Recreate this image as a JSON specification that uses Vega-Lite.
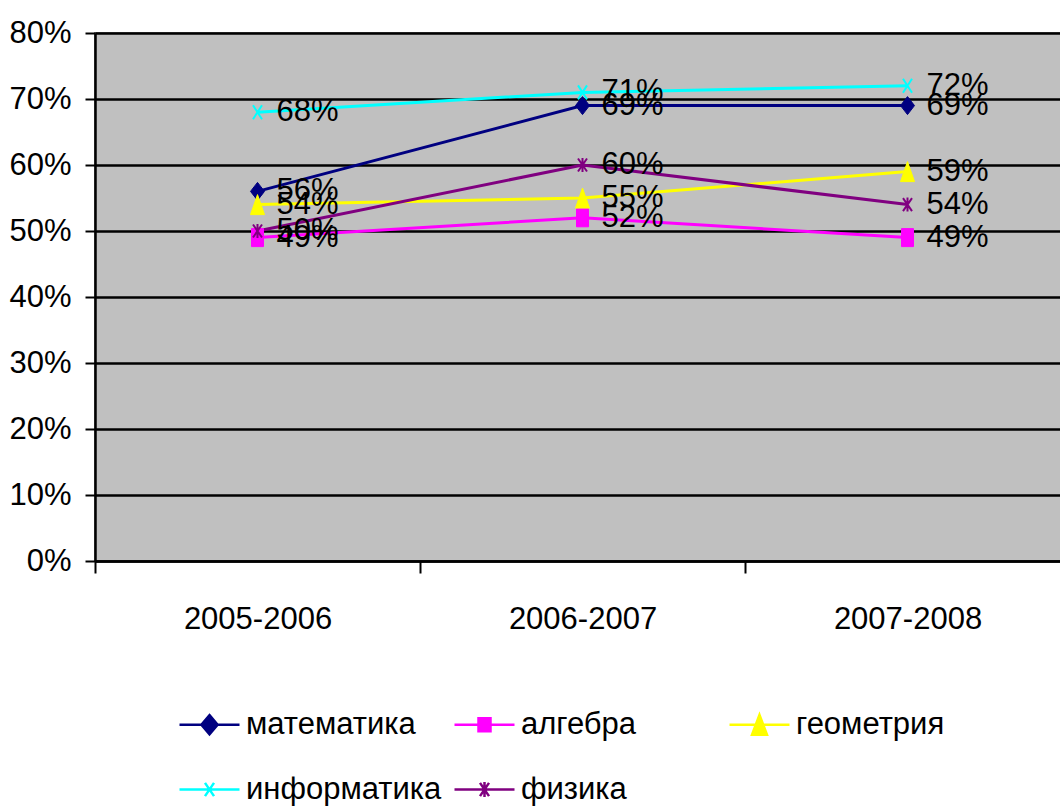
{
  "$schema": "https://vega.github.io/schema/vega-lite/v6.json",
  "width": 975,
  "height": 528,
  "autosize": {"type": "none"},
  "padding": {"left": 95, "top": 33, "right": 0, "bottom": 246},
  "background": "white",
  "config": {
    "view": {"fill": "#C0C0C0", "stroke": "#808080", "strokeWidth": 2},
    "font": "Liberation Sans",
    "text": {"font": "Liberation Sans"}
  },
  "data": {
    "values": [
      {"year": "2005-2006", "subject": "математика", "value": 0.56},
      {"year": "2006-2007", "subject": "математика", "value": 0.69},
      {"year": "2007-2008", "subject": "математика", "value": 0.69},
      {"year": "2005-2006", "subject": "алгебра", "value": 0.49},
      {"year": "2006-2007", "subject": "алгебра", "value": 0.52},
      {"year": "2007-2008", "subject": "алгебра", "value": 0.49},
      {"year": "2005-2006", "subject": "геометрия", "value": 0.54},
      {"year": "2006-2007", "subject": "геометрия", "value": 0.55},
      {"year": "2007-2008", "subject": "геометрия", "value": 0.59},
      {"year": "2005-2006", "subject": "информатика", "value": 0.68},
      {"year": "2006-2007", "subject": "информатика", "value": 0.71},
      {"year": "2007-2008", "subject": "информатика", "value": 0.72},
      {"year": "2005-2006", "subject": "физика", "value": 0.50},
      {"year": "2006-2007", "subject": "физика", "value": 0.60},
      {"year": "2007-2008", "subject": "физика", "value": 0.54}
    ]
  },
  "encoding": {
    "x": {
      "field": "year", "type": "nominal",
      "sort": ["2005-2006", "2006-2007", "2007-2008"],
      "scale": {"type": "band", "paddingInner": 0, "paddingOuter": 0},
      "axis": {
        "title": null, "labelAngle": 0, "tickBand": "extent", "tickSize": 12, "tickWidth": 2,
        "tickColor": "black", "domainColor": "black", "domainWidth": 2.5,
        "labelPadding": 31, "labelFontSize": 31, "labelColor": "black",
        "labelFont": "Liberation Sans", "grid": false
      }
    },
    "y": {
      "field": "value", "type": "quantitative",
      "scale": {"domain": [0, 0.8]},
      "axis": {
        "title": null, "values": [0, 0.1, 0.2, 0.3, 0.4, 0.5, 0.6, 0.7, 0.8],
        "format": ".0%", "labelFontSize": 31, "labelColor": "black",
        "labelFont": "Liberation Sans", "labelPadding": 14,
        "tickSize": 10, "tickWidth": 2, "tickColor": "black",
        "domainColor": "black", "domainWidth": 2.5,
        "grid": true, "gridColor": "black", "gridWidth": 2.5, "gridOpacity": 1
      }
    },
    "color": {
      "field": "subject", "type": "nominal",
      "scale": {
        "domain": ["математика", "алгебра", "геометрия", "информатика", "физика"],
        "range": ["#000080", "#FF00FF", "#FFFF00", "#00FFFF", "#800080"]
      },
      "legend": {
        "orient": "none", "legendX": 83, "legendY": 660,
        "direction": "horizontal", "columns": 3, "gridAlign": "all",
        "columnPadding": 7, "rowPadding": 18, "title": null, "padding": 0,
        "labelFontSize": 31, "labelFont": "Liberation Sans", "labelColor": "black",
        "labelOffset": 5, "symbolSize": 3600, "symbolStrokeWidth": 2.5, "labelLimit": 400,
        "encoding": {
          "symbols": {
            "shape": {"value": {"expr": "datum.value === 'математика' ? 'M-1,0H1M0,-0.32L0.27,0L0,0.32L-0.27,0Z' : datum.value === 'алгебра' ? 'M-1,0H1M-0.2,-0.22H0.2V0.22H-0.2Z' : datum.value === 'геометрия' ? 'M-1,0H1M0,-0.33L0.25,0.33H-0.25Z' : datum.value === 'информатика' ? 'M-1,0H1M-0.15,-0.22L0.15,0.22M-0.15,0.22L0.15,-0.22' : 'M-1,0H1M-0.15,-0.22L0.15,0.22M-0.15,0.22L0.15,-0.22M0,-0.25V0.25'"}},
            "fill": {"value": {"expr": "scale('color', datum.value)"}},
            "stroke": {"value": {"expr": "scale('color', datum.value)"}},
            "strokeWidth": {"value": 2.5},
            "opacity": {"value": 1}
          }
        }
      }
    }
  },
  "layer": [
    {
      "mark": {"type": "line", "strokeWidth": 3}
    },
    {
      "transform": [{"filter": "datum.subject === 'математика'"}],
      "mark": {"type": "point", "filled": true, "size": 400, "opacity": 1, "stroke": "#000080", "strokeWidth": 1, "shape": "M0,-0.9L0.7,0L0,0.9L-0.7,0Z"}
    },
    {
      "transform": [{"filter": "datum.subject === 'алгебра'"}],
      "mark": {"type": "point", "filled": true, "size": 400, "opacity": 1, "stroke": "#FF00FF", "strokeWidth": 1, "shape": "M-0.6,-0.9H0.6V0.9H-0.6Z"}
    },
    {
      "transform": [{"filter": "datum.subject === 'геометрия'"}],
      "mark": {"type": "point", "filled": true, "size": 400, "opacity": 1, "stroke": "#FFFF00", "strokeWidth": 1, "shape": "M0,-1L0.7,1H-0.7Z"}
    },
    {
      "transform": [{"filter": "datum.subject === 'информатика'"}],
      "mark": {"type": "point", "filled": false, "size": 400, "opacity": 1, "strokeWidth": 2, "shape": "M-0.45,-0.7L0.45,0.7M-0.45,0.7L0.45,-0.7"}
    },
    {
      "transform": [{"filter": "datum.subject === 'физика'"}],
      "mark": {"type": "point", "filled": false, "size": 400, "opacity": 1, "strokeWidth": 2, "shape": "M-0.45,-0.65L0.45,0.65M-0.45,0.65L0.45,-0.65M0,-0.7V0.7"}
    },
    {
      "mark": {"type": "text", "align": "left", "baseline": "middle", "dx": 19, "fontSize": 31, "font": "Liberation Sans"},
      "encoding": {
        "text": {"field": "value", "type": "quantitative", "format": ".0%"},
        "color": {"value": "black"}
      }
    }
  ]
}
